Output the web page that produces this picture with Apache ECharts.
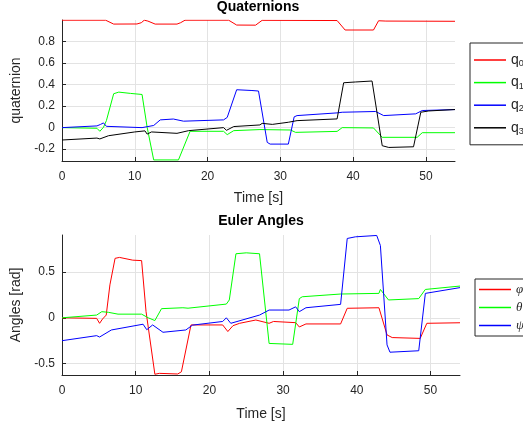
<!DOCTYPE html>
<html><head><meta charset="utf-8">
<script src="https://cdn.jsdelivr.net/npm/echarts@6/dist/echarts.min.js"></script>
<style>html,body{margin:0;padding:0;background:#fff}#c{width:523px;height:430px}</style>
</head><body><div id="c"></div>
<script>
// ---- tick labels ----
const xTicks = [0, 10, 20, 30, 40, 50];
const quatYTicks = [-0.2, 0, 0.2, 0.4, 0.6, 0.8];
const eulerYTicks = [-0.5, 0, 0.5];

// ---- Quaternions ----
const q0T = [0, 6.0, 7.1, 10.3, 10.9, 11.3, 11.8, 12.8, 15.8, 16.3, 16.9, 22.9, 24.0, 26.6, 27.5, 37.8, 38.9, 42.8, 43.5, 44.5, 54];
const q0V = [0.998, 0.998, 0.962, 0.963, 0.975, 0.998, 0.99, 0.962, 0.962, 0.975, 0.998, 0.998, 0.953, 0.952, 0.997, 0.995, 0.907, 0.907, 0.993, 0.99, 0.988];

const q1T = [0, 4.8, 5.2, 5.7, 6.1, 7.1, 7.8, 9.4, 11.0, 11.7, 12.6, 16.0, 17.6, 22.2, 22.7, 23.6, 27.2, 31.4, 32.1, 37.8, 38.5, 42.8, 44.0, 48.8, 49.5, 54];
const q1V = [0, -0.006, -0.034, 0.003, 0.065, 0.315, 0.330, 0.318, 0.308, 0.003, -0.30, -0.30, -0.034, -0.034, -0.065, -0.028, -0.018, -0.022, -0.044, -0.035, 0, -0.003, -0.09, -0.09, -0.047, -0.047];

const q2T = [0, 4.8, 5.3, 5.7, 6.1, 11.0, 12.6, 13.5, 15.3, 16.7, 22.2, 22.7, 24.0, 26.1, 27.0, 28.2, 28.6, 31.1, 31.9, 32.3, 37.8, 38.5, 43.1, 44.2, 48.6, 49.5, 54];
const q2V = [0, 0.016, 0.03, 0.044, 0.012, 0, 0.02, 0.072, 0.08, 0.06, 0.072, 0.095, 0.352, 0.345, 0.34, -0.137, -0.153, -0.153, 0.10, 0.112, 0.137, 0.143, 0.15, 0.112, 0.128, 0.159, 0.168];

const q3T = [0, 4.8, 5.2, 6.4, 10.0, 11.4, 11.7, 12.3, 15.8, 17.4, 22.2, 22.6, 23.6, 27.2, 27.5, 28.9, 31.1, 32.3, 37.8, 38.7, 40.3, 42.6, 44.0, 44.9, 48.3, 49.3, 50.4, 54];
const q3V = [-0.115, -0.097, -0.105, -0.075, -0.04, -0.03, -0.06, -0.04, -0.053, -0.028, 0, -0.025, 0.01, 0.025, 0.04, 0.03, 0.05, 0.065, 0.081, 0.417, 0.424, 0.433, -0.168, -0.184, -0.178, 0.143, 0.155, 0.168];

// ---- Euler angles ----
const phiT = [0, 4.7, 5.1, 5.5, 6.0, 6.5, 7.2, 7.8, 9.6, 10.8, 11.4, 12.6, 13.2, 15.7, 16.2, 17.5, 21.8, 22.5, 23.2, 24.1, 26.3, 28.1, 28.7, 31.7, 32.2, 33.1, 37.8, 38.7, 43.0, 44.1, 44.8, 48.6, 49.5, 54];
const phiV = [0, -0.006, -0.06, -0.013, 0.03, 0.36, 0.65, 0.66, 0.63, 0.625, 0.07, -0.617, -0.607, -0.614, -0.59, -0.078, -0.078, -0.15, -0.086, -0.06, -0.024, -0.06, -0.04, -0.053, -0.1, -0.067, -0.067, 0.104, 0.11, -0.187, -0.216, -0.225, -0.06, -0.054];

const thetaT = [0, 4.7, 5.4, 6.3, 7.6, 10.8, 11.7, 12.6, 13.5, 16.4, 17.1, 22.3, 22.7, 23.6, 25.0, 26.8, 28.1, 28.3, 31.3, 32.2, 32.6, 37.8, 43.0, 43.2, 44.3, 48.4, 49.3, 54];
const thetaV = [0, 0.03, 0.067, 0.06, 0.04, 0.04, 0, -0.03, 0.1, 0.11, 0.105, 0.15, 0.195, 0.70, 0.71, 0.70, -0.28, -0.30, -0.29, 0.21, 0.23, 0.26, 0.267, 0.31, 0.195, 0.21, 0.31, 0.347];

const psiT = [0, 4.7, 5.1, 6.7, 11.0, 11.5, 12.3, 13.7, 16.8, 17.7, 21.8, 22.3, 22.9, 26.8, 28.1, 30.8, 31.7, 32.2, 33.1, 37.8, 38.7, 39.8, 42.7, 43.2, 44.1, 44.5, 48.4, 49.3, 54];
const psiV = [-0.25, -0.195, -0.21, -0.133, -0.07, -0.13, -0.078, -0.158, -0.133, -0.08, -0.04, 0.0, -0.06, 0.03, 0.085, 0.085, 0.12, 0.067, 0.11, 0.147, 0.867, 0.885, 0.9, 0.79, -0.296, -0.376, -0.36, 0.267, 0.33];

const quatNames = ['q0', 'q1', 'q2', 'q3'];
const eulerNames = ['φ', 'θ', 'ψ'];

const zip = (t, v) => t.map((x, i) => [x, v[i]]);
const FONT = "'Liberation Sans', Arial, sans-serif";
const AX = '#262626';
const COLORS = ['#ff0000', '#00ff00', '#0000ff', '#000000'];

function xAxis(gi, gap) {
  return {
    type: 'value', gridIndex: gi, min: 0, max: 54,
    name: 'Time [s]', nameLocation: 'middle', nameGap: gap,
    nameTextStyle: { fontFamily: FONT, fontSize: 14, color: AX },
    axisLine: { show: true, onZero: false, lineStyle: { color: AX, width: 1 } },
    axisTick: { show: true, inside: true, length: 4, customValues: xTicks, lineStyle: { color: AX } },
    axisLabel: { customValues: xTicks, fontFamily: FONT, fontSize: 12, color: AX, margin: 10 },
    splitLine: { show: true, lineStyle: { color: '#e3e3e3', width: 1 } }
  };
}
function yAxis(gi, name, min, max, ticks, gap) {
  return {
    type: 'value', gridIndex: gi, min: min, max: max,
    name: name, nameLocation: 'middle', nameGap: gap,
    nameTextStyle: { fontFamily: FONT, fontSize: 14, color: AX },
    axisLine: { show: true, onZero: false, lineStyle: { color: AX, width: 1 } },
    axisTick: { show: true, inside: true, length: 4, customValues: ticks, lineStyle: { color: AX } },
    axisLabel: { customValues: ticks, fontFamily: FONT, fontSize: 12, color: AX, margin: 7 },
    splitLine: { show: true, lineStyle: { color: '#e3e3e3', width: 1 } }
  };
}
function line(name, t, v, color, gi) {
  return {
    type: 'line', name: name, xAxisIndex: gi, yAxisIndex: gi,
    data: zip(t, v), showSymbol: false, symbol: 'none',
    lineStyle: { color: color, width: 1 }, itemStyle: { color: color },
    clip: true
  };
}
const legendItems = names => names.map((n, i) => ({ name: n, itemStyle: { color: COLORS[i], borderWidth: 0 } }));

const chart = echarts.init(document.getElementById('c'), null, { renderer: 'canvas' });
chart.setOption({
  animation: false,
  backgroundColor: '#fff',
  title: [
    { text: 'Quaternions', left: 258, top: 0, padding: 0, textAlign: 'center',
      textStyle: { fontFamily: FONT, fontSize: 14, fontWeight: 'bold', color: '#000' } },
    { text: 'Euler Angles', left: 261, top: 214, padding: 0, textAlign: 'center',
      textStyle: { fontFamily: FONT, fontSize: 14, fontWeight: 'bold', color: '#000' } }
  ],
  grid: [
    { left: 62, width: 393, top: 20, height: 141 },
    { left: 62, width: 398, top: 235, height: 140 }
  ],
  xAxis: [xAxis(0, 30), xAxis(1, 32)],
  yAxis: [
    yAxis(0, 'quaternion', -0.31, 1.0, quatYTicks, 33),
    yAxis(1, 'Angles [rad]', -0.625, 0.905, eulerYTicks, 34)
  ],
  legend: [
    { data: legendItems(quatNames), orient: 'vertical', left: 470, top: 43,
      icon: 'rect', itemWidth: 32, itemHeight: 1.5, itemGap: 7.6, padding: [10, 12, 9, 4],
      borderColor: AX, borderWidth: 1, backgroundColor: '#fff', selectedMode: false,
      formatter: n => '{q|q}{s|' + n.slice(1) + '}',
      textStyle: { fontFamily: FONT, color: AX,
        rich: { q: { fontSize: 14, lineHeight: 16, fontFamily: FONT, color: AX },
                s: { fontSize: 9, lineHeight: 9, verticalAlign: 'bottom', fontFamily: FONT, color: AX } } } },
    { data: legendItems(eulerNames), orient: 'vertical', left: 475, top: 279,
      icon: 'rect', itemWidth: 32, itemHeight: 1.5, itemGap: 5, padding: [4, 12, 4, 4],
      borderColor: AX, borderWidth: 1, backgroundColor: '#fff', selectedMode: false,
      textStyle: { fontFamily: "'Liberation Serif', 'DejaVu Serif', serif", fontStyle: 'italic', fontSize: 13, lineHeight: 12, color: AX } }
  ],
  series: [
    line(quatNames[0], q0T, q0V, COLORS[0], 0),
    line(quatNames[1], q1T, q1V, COLORS[1], 0),
    line(quatNames[2], q2T, q2V, COLORS[2], 0),
    line(quatNames[3], q3T, q3V, COLORS[3], 0),
    line(eulerNames[0], phiT, phiV, COLORS[0], 1),
    line(eulerNames[1], thetaT, thetaV, COLORS[1], 1),
    line(eulerNames[2], psiT, psiV, COLORS[2], 1)
  ]
});
</script>
</body></html>
